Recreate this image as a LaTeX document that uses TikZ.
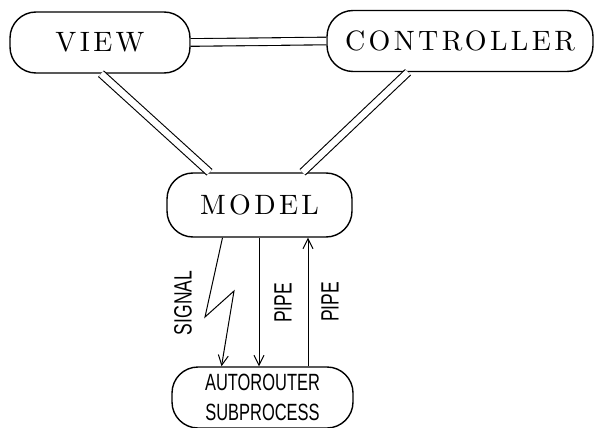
\documentclass[tikz,border=0pt]{standalone}
\usepackage{fontspec}
\usetikzlibrary{arrows.meta}
\newfontfamily\narrowfont[FakeStretch=0.7]{Liberation Sans}
\newfontfamily\spacedfont{lmroman10-regular.otf}[LetterSpace=12]

\tikzset{module/.style = {draw, line width = 1.4pt, rounded corners = 26pt,
                          inner sep = 0pt, minimum height = #1,
                          font = \fontsize{28}{30}\spacedfont},
         module/.default = 61pt,
         process/.style = {module, align = center,
                           font = \fontsize{23.5}{30}\narrowfont},
         link/.style = {draw, line width = 1.1pt, double, double distance = 6.5pt},
         flow/.style = {draw, line width = 1pt,
                        -{Straight Barb[length = 10pt, width = 10pt, line width = 1pt]}},
         tag/.style = {rotate = 90, inner sep = 0pt, font = \fontsize{25}{26}\narrowfont}
        }

\begin{document}
\begin{tikzpicture}[x=1pt, y=-1pt]
  \useasboundingbox (0, 0) rectangle (594, 428);
  \node[module, minimum width = 180pt] (view) at (100, 42.5) {VIEW};
  \node[module, minimum width = 266pt] (controller) at (460, 41) {CONTROLLER};
  \node[module = 64pt, minimum width = 185pt] (model) at (259.5, 205) {MODEL};
  \node[process, minimum width = 181pt] (router) at (262.5, 397.5) {AUTOROUTER\\SUBPROCESS};
  \draw[link] (view.east) -- (controller.west);
  \draw[link] ([xshift = 1pt]view.south) -- ([xshift = -50pt]model.north);
  \draw[link] ([xshift = -52pt]controller.south) -- ([xshift = 43pt]model.north);
  \draw[flow] ([xshift = -37pt]model.south) -- (205, 317) -- (234, 291) -- ([xshift = -41pt]router.north);
  \draw[flow] ([xshift = -0.5pt]model.south) -- ([xshift = -0.5pt]model.south |- router.north);
  \draw[flow] ([xshift = 48.5pt]model.south |- router.north) -- ([xshift = 48.5pt]model.south);
  \node[tag] (signal) at (183, 303) {SIGNAL};
  \node[tag] (pipedown) at (283, 303) {PIPE};
  \node[tag] (pipeup) at (330, 302) {PIPE};
\end{tikzpicture}
\end{document}
